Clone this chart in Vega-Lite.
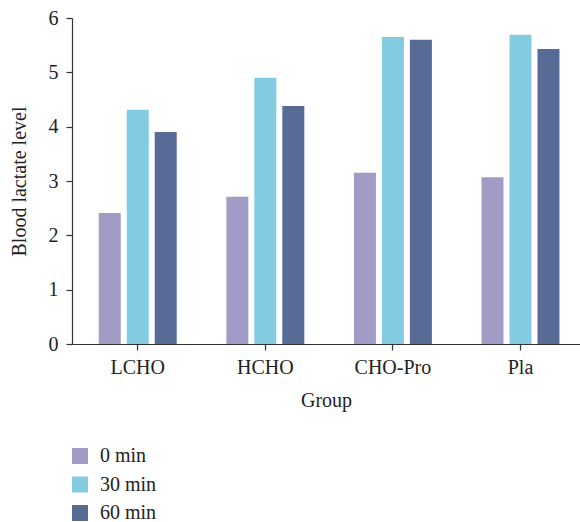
{
  "$schema": "https://vega.github.io/schema/vega-lite/v6.json",
  "autosize": "none",
  "width": 508,
  "height": 326,
  "padding": {"left": 72, "top": 18, "right": 0, "bottom": 178},
  "background": "white",
  "config": {
    "view": {"stroke": null},
    "font": "Liberation Serif",
    "axis": {"grid": false, "domainColor": "#333333", "tickColor": "#333333", "labelColor": "#222222", "titleColor": "#222222", "labelFont": "Liberation Serif", "titleFont": "Liberation Serif", "titleFontWeight": "normal", "labelFontSize": 20, "titleFontSize": 20, "tickSize": 6, "domainWidth": 1.2, "tickWidth": 1.2}
  },
  "data": {
    "values": [
      {"group": "LCHO", "time": "0 min", "value": 2.41},
      {"group": "LCHO", "time": "30 min", "value": 4.31},
      {"group": "LCHO", "time": "60 min", "value": 3.90},
      {"group": "HCHO", "time": "0 min", "value": 2.71},
      {"group": "HCHO", "time": "30 min", "value": 4.90},
      {"group": "HCHO", "time": "60 min", "value": 4.38},
      {"group": "CHO-Pro", "time": "0 min", "value": 3.15},
      {"group": "CHO-Pro", "time": "30 min", "value": 5.65},
      {"group": "CHO-Pro", "time": "60 min", "value": 5.60},
      {"group": "Pla", "time": "0 min", "value": 3.07},
      {"group": "Pla", "time": "30 min", "value": 5.69},
      {"group": "Pla", "time": "60 min", "value": 5.43}
    ]
  },
  "mark": {"type": "bar"},
  "encoding": {
    "x": {
      "field": "group",
      "type": "nominal",
      "sort": ["LCHO", "HCHO", "CHO-Pro", "Pla"],
      "scale": {"paddingInner": 0.389, "paddingOuter": 0.1854, "align": 0.566},
      "axis": {"title": "Group", "labelAngle": 0, "labelPadding": 7, "titlePadding": 13}
    },
    "xOffset": {
      "field": "time",
      "type": "nominal",
      "sort": ["0 min", "30 min", "60 min"],
      "scale": {"paddingInner": 0.214, "paddingOuter": 0}
    },
    "y": {
      "field": "value",
      "type": "quantitative",
      "scale": {"domain": [0, 6], "nice": false},
      "axis": {"title": "Blood lactate level", "values": [0, 1, 2, 3, 4, 5, 6], "labelPadding": 8, "titlePadding": 19}
    },
    "color": {
      "field": "time",
      "type": "nominal",
      "sort": ["0 min", "30 min", "60 min"],
      "scale": {"domain": ["0 min", "30 min", "60 min"], "range": ["#a09cc6", "#82cbe0", "#586a96"]},
      "legend": {
        "title": null,
        "orient": "none",
        "legendX": -2,
        "legendY": 428,
        "padding": 0,
        "symbolType": "square",
        "symbolSize": 256,
        "symbolStrokeWidth": 0,
        "symbolOpacity": 1,
        "labelFont": "Liberation Serif",
        "labelFontSize": 20,
        "labelColor": "#222222",
        "labelOffset": 10,
        "rowPadding": 8.5
      }
    }
  }
}
